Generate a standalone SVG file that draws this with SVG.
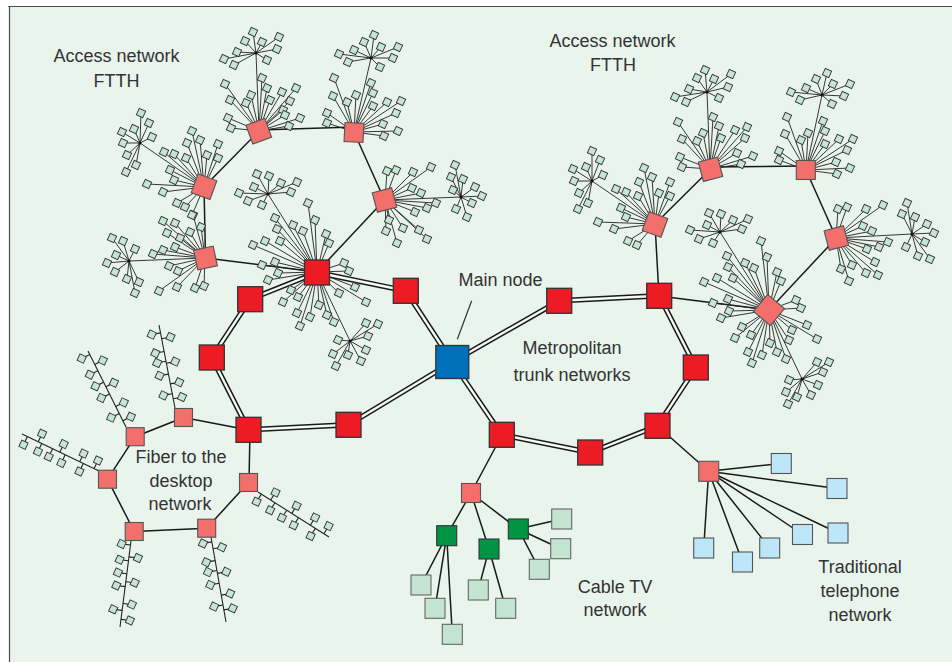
<svg xmlns="http://www.w3.org/2000/svg" xmlns:xlink="http://www.w3.org/1999/xlink" width="952" height="662" viewBox="0 0 952 662">
<style>
.t{font-family:"Liberation Sans",Arial,Helvetica,sans-serif;font-size:18px;fill:#333;text-anchor:middle}
.sp{stroke:#222;stroke-width:0.9;fill:none}
.ln{stroke:#1a1a1a;stroke-width:1.5;fill:none}
.bus{stroke:#222;stroke-width:1.1;fill:none}
.d1{stroke:#1a1a1a;stroke-width:5.4;fill:none;stroke-linejoin:round}
.d2{stroke:#f4faf6;stroke-width:2.4;fill:none;stroke-linejoin:round}
.sq{fill:#c6e6d3;stroke:#333;stroke-width:0.9}
.red{fill:#ed1c24;stroke:#333;stroke-width:1.3}
.pk{fill:#f26f6c;stroke:#555;stroke-width:1.1}
.dg{fill:#009444;stroke:#333;stroke-width:1.1}
.lg{fill:#c3e4d1;stroke:#666;stroke-width:1.1}
.lb{fill:#bde6f8;stroke:#555;stroke-width:1.1}
.bl{fill:#0070ba;stroke:#333;stroke-width:1.3}
.dot{fill:#111}
</style>
<defs>
<rect id="q" class="sq" x="-3.5" y="-3.5" width="7" height="7" transform="rotate(25)"/>
</defs>
<rect x="0" y="0" width="952" height="662" fill="#fff"/>
<rect x="9.5" y="6.5" width="943" height="656" fill="#e8f4ec"/>
<path d="M8 6.5H952M9.5 6V662" stroke="#4d4d4d" stroke-width="1.2" fill="none"/>

<g id="connectors">
<path class="d1" d="M317 272.5L405.8 290.8L452.3 362L559.2 300.8L659.2 295.8L695.8 367.5L657.5 425.8L590.2 452.5L501.8 434.8L452.3 362L348.5 424.8L248.5 429.8L211.8 357.5L250.2 299.2Z"/>
<path class="d2" d="M317 272.5L405.8 290.8L452.3 362L559.2 300.8L659.2 295.8L695.8 367.5L657.5 425.8L590.2 452.5L501.8 434.8L452.3 362L348.5 424.8L248.5 429.8L211.8 357.5L250.2 299.2Z"/>
<path class="ln" d="M659 296L655 224M659 296L769 310M657.5 426L708.7 471.3M502 435L471 493M250 430L249 482M248.5 430L183.5 417.5M317 272L205.5 258M317 272L384.5 200M205.5 258L204 187M204 187L259 131M259 130L354 127M354 132L384.5 200M655 224L710.5 169M710 167L806 166M806 170L836.3 238M836.3 238L769 310"/>
<path class="ln" d="M183.5 417.5L135.2 436.7L107.5 479.2L134.2 531.5L206.7 528.2L248.5 482.5"/>
<path class="ln" d="M471 493L446.7 535.7M471 493L489 549M471 493L518.3 529M446.7 535.7L421 585M446.7 535.7L435 608.3M446.7 535.7L452.3 634.3M489 549L478.3 590M489 549L505.7 608.3M518.3 529L561.7 519M518.3 529L560.7 548.7M518.3 529L539.3 569.3"/>
<path class="ln" d="M708.7 471.3L781.3 463.5M708.7 471.3L837 488.5M708.7 471.3L838 533M708.7 471.3L802.5 534.5M708.7 471.3L769.7 548M708.7 471.3L742.5 562M708.7 471.3L703.7 548"/>
<path stroke="#333" stroke-width="1.2" d="M471.7 300.7L457.3 339.3"/>
<!-- spokes left FTTH -->
<path class="sp" d="M317 272L308 203M317 272L315 220M317 272L326 234M317 272L329 243M317 272L275 218M317 272L277 229M317 272L280 241M317 272L293 225M317 272L303 231M317 272L253 245M317 272L265 241M317 272L262 265M317 272L275 262M317 272L278 273M317 272L268 280M317 272L283 302M317 272L291 290M317 272L298 297M317 272L297 313M317 272L300 326M317 272L310 317M317 272L319 305M317 272L327 315M317 272L334 322M317 272L339 293M317 272L344 263M317 272L349 271M317 272L355 287M317 272L366 302M317 272L268 194M317 272L350 341"/>
<path class="sp" d="M268 194L257 174M268 194L269 176M268 194L281 183M268 194L297 182M268 194L291 192M268 194L239 193M268 194L254 187M268 194L248 201M268 194L262 205"/>
<path class="sp" d="M350 341L338 340M350 341L333 354M350 341L336 366M350 341L348 355M350 341L361 361M350 341L366 350M350 341L368 336M350 341L366 323M350 341L378 324"/>
<path class="sp" d="M205 258L163 221M205 258L175 223M205 258L193 215M205 258L201 227M205 258L190 232M205 258L167 233M205 258L180 238M205 258L153 254M205 258L163 250M205 258L175 247M205 258L169 266M205 258L178 271M205 258L159 291M205 258L177 287M205 258L195 288M205 258L204 286M205 258L129 261"/>
<path class="sp" d="M129 261L112 238M129 261L123 241M129 261L135 249M129 261L116 255M129 261L107 263M129 261L115 272M129 261L127 279M129 261L139 282M129 261L135 293"/>
<path class="sp" d="M204 187L192 131M204 187L200 140M204 187L187 143M204 187L218 144M204 187L207 155M204 187L218 158M204 187L186 158M204 187L174 154M204 187L164 152M204 187L170 170M204 187L174 180M204 187L147 184M204 187L163 192M204 187L177 203M204 187L185 207M204 187L192 215M204 187L140 143"/>
<path class="sp" d="M140 143L141 113M140 143L149 123M140 143L134 129M140 143L152 137M140 143L122 132M140 143L123 143M140 143L127 155M140 143L136 165M140 143L126 172"/>
<path class="sp" d="M259 131L225 84M259 131L230 100M259 131L228 118M259 131L231 128M259 131L246 103M259 131L251 95M259 131L262 78M259 131L267 88M259 131L270 100M259 131L282 92M259 131L283 110M259 131L290 101M259 131L296 88M259 131L285 115M259 131L289 126M259 131L300 118M259 131L256 53"/>
<path class="sp" d="M256 53L253 32M256 53L245 41M256 53L262 42M256 53L279 37M256 53L277 49M256 53L237 52M256 53L267 60M256 53L224 59M256 53L234 65"/>
<path class="sp" d="M354 132L334 78M354 132L333 96M354 132L327 113M354 132L327 123M354 132L347 102M354 132L356 95M354 132L371 83M354 132L373 93M354 132L373 106M354 132L387 102M354 132L401 101M354 132L396 113M354 132L383 124M354 132L384 136M354 132L398 131M354 132L371 58"/>
<path class="sp" d="M371 58L374 35M371 58L364 42M371 58L354 50M371 58L381 47M371 58L398 47M371 58L393 58M371 58L339 54M371 58L348 62M371 58L380 67"/>
<path class="sp" d="M385 200L387 171M385 200L396 170M385 200L413 172M385 200L431 167M385 200L412 188M385 200L421 193M385 200L436 203M385 200L427 208M385 200L415 212M385 200L389 220M385 200L403 228M385 200L419 230M385 200L427 239M385 200L397 243M385 200L386 231M385 200L461 197"/>
<path class="sp" d="M461 197L455 165M461 197L451 177M461 197L463 179M461 197L475 187M461 197L453 190M461 197L472 203M461 197L467 217M461 197L482 196M461 197L456 209"/>
<!-- spokes right FTTH -->
<path class="sp" d="M655 224L616 189M655 224L626 192M655 224L638 196M655 224L639 182M655 224L644 168M655 224L652 177M655 224L659 193M655 224L670 196M655 224L670 182M655 224L621 208M655 224L626 217M655 224L598 222M655 224L614 229M655 224L628 241M655 224L637 245M655 224L592 181"/>
<path class="sp" d="M592 181L592 151M592 181L600 160M592 181L586 167M592 181L573 169M592 181L603 175M592 181L574 181M592 181L579 193M592 181L588 203M592 181L578 209"/>
<path class="sp" d="M710 169L678 122M710 169L682 139M710 169L680 157M710 169L682 167M710 169L697 141M710 169L703 133M710 169L713 117M710 169L719 126M710 169L721 138M710 169L735 130M710 169L747 127M710 169L745 138M710 169L737 153M710 169L741 164M710 169L753 156M710 169L707 92"/>
<path class="sp" d="M707 92L705 70M707 92L697 78M707 92L714 79M707 92L731 74M707 92L728 87M707 92L689 89M707 92L719 98M707 92L675 97M707 92L686 102"/>
<path class="sp" d="M806 170L787 117M806 170L785 134M806 170L779 151M806 170L779 160M806 170L801 140M806 170L808 133M806 170L823 121M806 170L825 131M806 170L825 144M806 170L839 139M806 170L853 139M806 170L847 150M806 170L836 162M806 170L837 174M806 170L850 168M806 170L822 95"/>
<path class="sp" d="M822 95L827 73M822 95L816 79M822 95L833 84M822 95L850 84M822 95L806 88M822 95L844 96M822 95L791 92M822 95L800 100M822 95L832 104"/>
<path class="sp" d="M836 238L838 209M836 238L847 207M836 238L866 209M836 238L883 205M836 238L863 226M836 238L872 231M836 238L888 242M836 238L879 247M836 238L867 249M836 238L875 262M836 238L866 273M836 238L878 275M836 238L852 265M836 238L841 269M836 238L849 281M836 238L912 234"/>
<path class="sp" d="M912 234L907 203M912 234L902 214M912 234L915 217M912 234L927 224M912 234L934 233M912 234L925 242M912 234L906 247M912 234L918 256M912 234L930 259"/>
<path class="sp" d="M769 310L761 241M769 310L767 257M769 310L777 272M769 310L781 281M769 310L727 256M769 310L728 267M769 310L733 278M769 310L745 263M769 310L754 268M769 310L704 282M769 310L717 278M769 310L713 303M769 310L728 299M769 310L729 311M769 310L721 318M769 310L796 300M769 310L801 308M769 310L807 325M769 310L817 339M769 310L792 330M769 310L789 340M769 310L786 359M769 310L777 352M769 310L770 343M769 310L762 355M769 310L751 335M769 310L742 327M769 310L735 338M769 310L748 352M769 310L752 363M769 310L720 232M769 310L802 379"/>
<path class="sp" d="M720 232L709 213M720 232L721 214M720 232L733 220M720 232L748 219M720 232L707 225M720 232L742 229M720 232L690 230M720 232L699 239M720 232L713 243"/>
<path class="sp" d="M802 379L817 362M802 379L829 362M802 379L823 372M802 379L818 385M802 379L811 395M802 379L797 397M802 379L788 404M802 379L786 392M802 379L789 380"/>
<!-- fiber buses -->
<path class="bus" d="M159 325L175 408M88 351L126 427M22 434L99 471M131 541L120 627M211 537L226 622M258 492L329 537"/>
<path class="bus" d="M151.7 334.6L160.5 332.9M155.3 353.2L164.1 351.5M157.2 363L166 361.3M159.6 375.8L168.5 374.1M163.4 395.4L172.2 393.7M170.5 337L161.6 338.7M175.2 361.6L166.4 363.3M179.2 382.2L170.3 383.9M182 397L173.2 398.7
M81.7 358.6L89.8 354.6M89.8 374.7L97.8 370.7M95.5 386.3L103.6 382.3M101.4 397.9L109.5 393.9M111.2 417.6L119.3 413.6M102.8 360.4L94.7 364.4M113.9 382.7L105.9 386.8M123.8 402.4L115.7 406.4M130.9 416.7L122.9 420.7
M42.1 433.7L38.2 441.8M63.7 444.1L59.8 452.2M83.6 453.6L79.7 461.7M98 460.5L94.1 468.6M23.5 444.7L27.4 436.6M37.9 451.6L41.8 443.5M48.7 456.8L52.6 448.7M61.3 462.9L65.2 454.8M79.4 471.5L83.3 463.4
M121.6 543.9L130.5 545M119.6 559.7L128.5 560.8M117.9 572.6L126.8 573.7M116.3 585.5L125.2 586.6M113.2 609.3L122.1 610.4M137.9 558L129 556.9M134.7 582.8L125.8 581.7M131.9 604.6L123 603.5M129.9 620.5L121 619.4
M203 543.5L211.9 541.9M206.3 562.2L215.2 560.6M208 572.1L216.9 570.5M210.3 584.9L219.2 583.3M214.1 606.6L223 605M222 547.2L213.1 548.8M226.3 571.8L217.4 573.4M230.2 593.5L221.3 595.1M232.8 608.3L223.9 609.9
M275.5 492.4L270.7 500M296.6 505.8L291.8 513.4M315.1 517.6L310.3 525.2M328.6 526.1L323.8 533.7M256.6 501.7L261.4 494.1M270.1 510.3L274.9 502.7M281.9 517.8L286.7 510.2M293.7 525.3L298.5 517.7M310.6 536L315.4 528.4"/>
</g>

<g id="sub-hubs">
<circle class="dot" cx="268" cy="194" r="1.6"/><circle class="dot" cx="350" cy="341" r="1.6"/><circle class="dot" cx="129" cy="261" r="1.6"/><circle class="dot" cx="140" cy="143" r="1.6"/><circle class="dot" cx="256" cy="53" r="1.6"/><circle class="dot" cx="371" cy="58" r="1.6"/><circle class="dot" cx="461" cy="197" r="1.6"/><circle class="dot" cx="592" cy="181" r="1.6"/><circle class="dot" cx="707" cy="92" r="1.6"/><circle class="dot" cx="822" cy="95" r="1.6"/><circle class="dot" cx="912" cy="234" r="1.6"/><circle class="dot" cx="720" cy="232" r="1.6"/><circle class="dot" cx="802" cy="379" r="1.6"/>
</g>

<g id="terminals-left-ftth">
<use href="#q" x="308" y="203"/><use href="#q" x="315" y="220"/><use href="#q" x="326" y="234"/><use href="#q" x="329" y="243"/><use href="#q" x="275" y="218"/><use href="#q" x="277" y="229"/><use href="#q" x="280" y="241"/><use href="#q" x="293" y="225"/><use href="#q" x="303" y="231"/><use href="#q" x="253" y="245"/><use href="#q" x="265" y="241"/><use href="#q" x="262" y="265"/><use href="#q" x="275" y="262"/><use href="#q" x="278" y="273"/><use href="#q" x="268" y="280"/><use href="#q" x="283" y="302"/><use href="#q" x="291" y="290"/><use href="#q" x="298" y="297"/><use href="#q" x="297" y="313"/><use href="#q" x="300" y="326"/><use href="#q" x="310" y="317"/><use href="#q" x="319" y="305"/><use href="#q" x="327" y="315"/><use href="#q" x="334" y="322"/><use href="#q" x="339" y="293"/><use href="#q" x="344" y="263"/><use href="#q" x="349" y="271"/><use href="#q" x="355" y="287"/><use href="#q" x="366" y="302"/>
<use href="#q" x="257" y="174"/><use href="#q" x="269" y="176"/><use href="#q" x="281" y="183"/><use href="#q" x="297" y="182"/><use href="#q" x="291" y="192"/><use href="#q" x="239" y="193"/><use href="#q" x="254" y="187"/><use href="#q" x="248" y="201"/><use href="#q" x="262" y="205"/>
<use href="#q" x="338" y="340"/><use href="#q" x="333" y="354"/><use href="#q" x="336" y="366"/><use href="#q" x="348" y="355"/><use href="#q" x="361" y="361"/><use href="#q" x="366" y="350"/><use href="#q" x="368" y="336"/><use href="#q" x="366" y="323"/><use href="#q" x="378" y="324"/>
<use href="#q" x="163" y="221"/><use href="#q" x="175" y="223"/><use href="#q" x="193" y="215"/><use href="#q" x="201" y="227"/><use href="#q" x="190" y="232"/><use href="#q" x="167" y="233"/><use href="#q" x="180" y="238"/><use href="#q" x="153" y="254"/><use href="#q" x="163" y="250"/><use href="#q" x="175" y="247"/><use href="#q" x="169" y="266"/><use href="#q" x="178" y="271"/><use href="#q" x="159" y="291"/><use href="#q" x="177" y="287"/><use href="#q" x="195" y="288"/><use href="#q" x="204" y="286"/>
<use href="#q" x="112" y="238"/><use href="#q" x="123" y="241"/><use href="#q" x="135" y="249"/><use href="#q" x="116" y="255"/><use href="#q" x="107" y="263"/><use href="#q" x="115" y="272"/><use href="#q" x="127" y="279"/><use href="#q" x="139" y="282"/><use href="#q" x="135" y="293"/>
<use href="#q" x="192" y="131"/><use href="#q" x="200" y="140"/><use href="#q" x="187" y="143"/><use href="#q" x="218" y="144"/><use href="#q" x="207" y="155"/><use href="#q" x="218" y="158"/><use href="#q" x="186" y="158"/><use href="#q" x="174" y="154"/><use href="#q" x="164" y="152"/><use href="#q" x="170" y="170"/><use href="#q" x="174" y="180"/><use href="#q" x="147" y="184"/><use href="#q" x="163" y="192"/><use href="#q" x="177" y="203"/><use href="#q" x="185" y="207"/><use href="#q" x="192" y="215"/>
<use href="#q" x="141" y="113"/><use href="#q" x="149" y="123"/><use href="#q" x="134" y="129"/><use href="#q" x="152" y="137"/><use href="#q" x="122" y="132"/><use href="#q" x="123" y="143"/><use href="#q" x="127" y="155"/><use href="#q" x="136" y="165"/><use href="#q" x="126" y="172"/>
<use href="#q" x="225" y="84"/><use href="#q" x="230" y="100"/><use href="#q" x="228" y="118"/><use href="#q" x="231" y="128"/><use href="#q" x="246" y="103"/><use href="#q" x="251" y="95"/><use href="#q" x="262" y="78"/><use href="#q" x="267" y="88"/><use href="#q" x="270" y="100"/><use href="#q" x="282" y="92"/><use href="#q" x="283" y="110"/><use href="#q" x="290" y="101"/><use href="#q" x="296" y="88"/><use href="#q" x="285" y="115"/><use href="#q" x="289" y="126"/><use href="#q" x="300" y="118"/>
<use href="#q" x="253" y="32"/><use href="#q" x="245" y="41"/><use href="#q" x="262" y="42"/><use href="#q" x="279" y="37"/><use href="#q" x="277" y="49"/><use href="#q" x="237" y="52"/><use href="#q" x="267" y="60"/><use href="#q" x="224" y="59"/><use href="#q" x="234" y="65"/>
<use href="#q" x="334" y="78"/><use href="#q" x="333" y="96"/><use href="#q" x="327" y="113"/><use href="#q" x="327" y="123"/><use href="#q" x="347" y="102"/><use href="#q" x="356" y="95"/><use href="#q" x="371" y="83"/><use href="#q" x="373" y="93"/><use href="#q" x="373" y="106"/><use href="#q" x="387" y="102"/><use href="#q" x="401" y="101"/><use href="#q" x="396" y="113"/><use href="#q" x="383" y="124"/><use href="#q" x="384" y="136"/><use href="#q" x="398" y="131"/>
<use href="#q" x="374" y="35"/><use href="#q" x="364" y="42"/><use href="#q" x="354" y="50"/><use href="#q" x="381" y="47"/><use href="#q" x="398" y="47"/><use href="#q" x="393" y="58"/><use href="#q" x="339" y="54"/><use href="#q" x="348" y="62"/><use href="#q" x="380" y="67"/>
<use href="#q" x="387" y="171"/><use href="#q" x="396" y="170"/><use href="#q" x="413" y="172"/><use href="#q" x="431" y="167"/><use href="#q" x="412" y="188"/><use href="#q" x="421" y="193"/><use href="#q" x="436" y="203"/><use href="#q" x="427" y="208"/><use href="#q" x="415" y="212"/><use href="#q" x="389" y="220"/><use href="#q" x="403" y="228"/><use href="#q" x="419" y="230"/><use href="#q" x="427" y="239"/><use href="#q" x="397" y="243"/><use href="#q" x="386" y="231"/>
<use href="#q" x="455" y="165"/><use href="#q" x="451" y="177"/><use href="#q" x="463" y="179"/><use href="#q" x="475" y="187"/><use href="#q" x="453" y="190"/><use href="#q" x="472" y="203"/><use href="#q" x="467" y="217"/><use href="#q" x="482" y="196"/><use href="#q" x="456" y="209"/>
</g>

<g id="terminals-right-ftth">
<use href="#q" x="616" y="189"/><use href="#q" x="626" y="192"/><use href="#q" x="638" y="196"/><use href="#q" x="639" y="182"/><use href="#q" x="644" y="168"/><use href="#q" x="652" y="177"/><use href="#q" x="659" y="193"/><use href="#q" x="670" y="196"/><use href="#q" x="670" y="182"/><use href="#q" x="621" y="208"/><use href="#q" x="626" y="217"/><use href="#q" x="598" y="222"/><use href="#q" x="614" y="229"/><use href="#q" x="628" y="241"/><use href="#q" x="637" y="245"/>
<use href="#q" x="592" y="151"/><use href="#q" x="600" y="160"/><use href="#q" x="586" y="167"/><use href="#q" x="573" y="169"/><use href="#q" x="603" y="175"/><use href="#q" x="574" y="181"/><use href="#q" x="579" y="193"/><use href="#q" x="588" y="203"/><use href="#q" x="578" y="209"/>
<use href="#q" x="678" y="122"/><use href="#q" x="682" y="139"/><use href="#q" x="680" y="157"/><use href="#q" x="682" y="167"/><use href="#q" x="697" y="141"/><use href="#q" x="703" y="133"/><use href="#q" x="713" y="117"/><use href="#q" x="719" y="126"/><use href="#q" x="721" y="138"/><use href="#q" x="735" y="130"/><use href="#q" x="747" y="127"/><use href="#q" x="745" y="138"/><use href="#q" x="737" y="153"/><use href="#q" x="741" y="164"/><use href="#q" x="753" y="156"/>
<use href="#q" x="705" y="70"/><use href="#q" x="697" y="78"/><use href="#q" x="714" y="79"/><use href="#q" x="731" y="74"/><use href="#q" x="728" y="87"/><use href="#q" x="689" y="89"/><use href="#q" x="719" y="98"/><use href="#q" x="675" y="97"/><use href="#q" x="686" y="102"/>
<use href="#q" x="787" y="117"/><use href="#q" x="785" y="134"/><use href="#q" x="779" y="151"/><use href="#q" x="779" y="160"/><use href="#q" x="801" y="140"/><use href="#q" x="808" y="133"/><use href="#q" x="823" y="121"/><use href="#q" x="825" y="131"/><use href="#q" x="825" y="144"/><use href="#q" x="839" y="139"/><use href="#q" x="853" y="139"/><use href="#q" x="847" y="150"/><use href="#q" x="836" y="162"/><use href="#q" x="837" y="174"/><use href="#q" x="850" y="168"/>
<use href="#q" x="827" y="73"/><use href="#q" x="816" y="79"/><use href="#q" x="833" y="84"/><use href="#q" x="850" y="84"/><use href="#q" x="806" y="88"/><use href="#q" x="844" y="96"/><use href="#q" x="791" y="92"/><use href="#q" x="800" y="100"/><use href="#q" x="832" y="104"/>
<use href="#q" x="838" y="209"/><use href="#q" x="847" y="207"/><use href="#q" x="866" y="209"/><use href="#q" x="883" y="205"/><use href="#q" x="863" y="226"/><use href="#q" x="872" y="231"/><use href="#q" x="888" y="242"/><use href="#q" x="879" y="247"/><use href="#q" x="867" y="249"/><use href="#q" x="875" y="262"/><use href="#q" x="866" y="273"/><use href="#q" x="878" y="275"/><use href="#q" x="852" y="265"/><use href="#q" x="841" y="269"/><use href="#q" x="849" y="281"/>
<use href="#q" x="907" y="203"/><use href="#q" x="902" y="214"/><use href="#q" x="915" y="217"/><use href="#q" x="927" y="224"/><use href="#q" x="934" y="233"/><use href="#q" x="925" y="242"/><use href="#q" x="906" y="247"/><use href="#q" x="918" y="256"/><use href="#q" x="930" y="259"/>
<use href="#q" x="761" y="241"/><use href="#q" x="767" y="257"/><use href="#q" x="777" y="272"/><use href="#q" x="781" y="281"/><use href="#q" x="727" y="256"/><use href="#q" x="728" y="267"/><use href="#q" x="733" y="278"/><use href="#q" x="745" y="263"/><use href="#q" x="754" y="268"/><use href="#q" x="704" y="282"/><use href="#q" x="717" y="278"/><use href="#q" x="713" y="303"/><use href="#q" x="728" y="299"/><use href="#q" x="729" y="311"/><use href="#q" x="721" y="318"/><use href="#q" x="796" y="300"/><use href="#q" x="801" y="308"/><use href="#q" x="807" y="325"/><use href="#q" x="817" y="339"/><use href="#q" x="792" y="330"/><use href="#q" x="789" y="340"/><use href="#q" x="786" y="359"/><use href="#q" x="777" y="352"/><use href="#q" x="770" y="343"/><use href="#q" x="762" y="355"/><use href="#q" x="751" y="335"/><use href="#q" x="742" y="327"/><use href="#q" x="735" y="338"/><use href="#q" x="748" y="352"/><use href="#q" x="752" y="363"/>
<use href="#q" x="709" y="213"/><use href="#q" x="721" y="214"/><use href="#q" x="733" y="220"/><use href="#q" x="748" y="219"/><use href="#q" x="707" y="225"/><use href="#q" x="742" y="229"/><use href="#q" x="690" y="230"/><use href="#q" x="699" y="239"/><use href="#q" x="713" y="243"/>
<use href="#q" x="817" y="362"/><use href="#q" x="829" y="362"/><use href="#q" x="823" y="372"/><use href="#q" x="818" y="385"/><use href="#q" x="811" y="395"/><use href="#q" x="797" y="397"/><use href="#q" x="788" y="404"/><use href="#q" x="786" y="392"/><use href="#q" x="789" y="380"/>
</g>

<g id="terminals-fiber-desktop">
<use href="#q" x="151.7" y="334.6"/><use href="#q" x="155.3" y="353.2"/><use href="#q" x="157.2" y="363"/><use href="#q" x="159.6" y="375.8"/><use href="#q" x="163.4" y="395.4"/><use href="#q" x="170.5" y="337"/><use href="#q" x="175.2" y="361.6"/><use href="#q" x="179.2" y="382.2"/><use href="#q" x="182" y="397"/>
<use href="#q" x="81.7" y="358.6"/><use href="#q" x="89.8" y="374.7"/><use href="#q" x="95.5" y="386.3"/><use href="#q" x="101.4" y="397.9"/><use href="#q" x="111.2" y="417.6"/><use href="#q" x="102.8" y="360.4"/><use href="#q" x="113.9" y="382.7"/><use href="#q" x="123.8" y="402.4"/><use href="#q" x="130.9" y="416.7"/>
<use href="#q" x="42.1" y="433.7"/><use href="#q" x="63.7" y="444.1"/><use href="#q" x="83.6" y="453.6"/><use href="#q" x="98" y="460.5"/><use href="#q" x="23.5" y="444.7"/><use href="#q" x="37.9" y="451.6"/><use href="#q" x="48.7" y="456.8"/><use href="#q" x="61.3" y="462.9"/><use href="#q" x="79.4" y="471.5"/>
<use href="#q" x="121.6" y="543.9"/><use href="#q" x="119.6" y="559.7"/><use href="#q" x="117.9" y="572.6"/><use href="#q" x="116.3" y="585.5"/><use href="#q" x="113.2" y="609.3"/><use href="#q" x="137.9" y="558"/><use href="#q" x="134.7" y="582.8"/><use href="#q" x="131.9" y="604.6"/><use href="#q" x="129.9" y="620.5"/>
<use href="#q" x="203" y="543.5"/><use href="#q" x="206.3" y="562.2"/><use href="#q" x="208" y="572.1"/><use href="#q" x="210.3" y="584.9"/><use href="#q" x="214.1" y="606.6"/><use href="#q" x="222" y="547.2"/><use href="#q" x="226.3" y="571.8"/><use href="#q" x="230.2" y="593.5"/><use href="#q" x="232.8" y="608.3"/>
<use href="#q" x="275.5" y="492.4"/><use href="#q" x="296.6" y="505.8"/><use href="#q" x="315.1" y="517.6"/><use href="#q" x="328.6" y="526.1"/><use href="#q" x="256.6" y="501.7"/><use href="#q" x="270.1" y="510.3"/><use href="#q" x="281.9" y="517.8"/><use href="#q" x="293.7" y="525.3"/><use href="#q" x="310.6" y="536"/>
</g>

<g id="trunk-nodes">
<g id="hub-a"><rect class="red" x="304.5" y="260" width="25" height="25"/></g>
<g id="r1"><rect class="red" x="393.3" y="278.3" width="25" height="25"/></g>
<g id="r2"><rect class="red" x="546.7" y="288.3" width="25" height="25"/></g>
<g id="r3"><rect class="red" x="646.7" y="283.3" width="25" height="25"/></g>
<g id="r4"><rect class="red" x="683.3" y="355" width="25" height="25"/></g>
<g id="r5"><rect class="red" x="645" y="413.3" width="25" height="25"/></g>
<g id="r6"><rect class="red" x="577.7" y="440" width="25" height="25"/></g>
<g id="r7"><rect class="red" x="489.3" y="422.3" width="25" height="25"/></g>
<g id="r8"><rect class="red" x="336" y="412.3" width="25" height="25"/></g>
<g id="r9"><rect class="red" x="236" y="417.3" width="25" height="25"/></g>
<g id="r10"><rect class="red" x="199.3" y="345" width="25" height="25"/></g>
<g id="r11"><rect class="red" x="237.7" y="286.7" width="25" height="25"/></g>
<g id="main-node"><rect class="bl" x="435.8" y="345.5" width="33" height="33"/></g>
</g>

<g id="access-nodes">
<g id="lp1"><rect class="pk" x="-10" y="-10" width="20" height="20" transform="translate(205.5 258) rotate(-12)"/></g>
<g id="lp2"><rect class="pk" x="-10" y="-10" width="20" height="20" transform="translate(204 186.7) rotate(20)"/></g>
<g id="lp3"><rect class="pk" x="-10" y="-10" width="20" height="20" transform="translate(258.8 131.2) rotate(-20)"/></g>
<g id="lp4"><rect class="pk" x="-9.5" y="-9.5" width="19" height="19" transform="translate(354 132.5) rotate(3)"/></g>
<g id="lp5"><rect class="pk" x="-10" y="-10" width="20" height="20" transform="translate(384.5 200) rotate(-15)"/></g>
<g id="rp1"><rect class="pk" x="-10" y="-10" width="20" height="20" transform="translate(655 224.5) rotate(20)"/></g>
<g id="rp2"><rect class="pk" x="-10" y="-10" width="20" height="20" transform="translate(710.5 169.3) rotate(-15)"/></g>
<g id="rp3"><rect class="pk" x="-9.5" y="-9.5" width="19" height="19" transform="translate(805.8 170)"/></g>
<g id="rp4"><rect class="pk" x="-10" y="-10" width="20" height="20" transform="translate(836.3 238) rotate(-15)"/></g>
<g id="rp5"><rect class="pk" x="-11" y="-11" width="22" height="22" transform="translate(769 310) rotate(40)"/></g>
</g>

<g id="fiber-nodes">
<g id="pa"><rect class="pk" x="174.5" y="408.5" width="18" height="18"/></g>
<g id="pb"><rect class="pk" x="126.2" y="427.7" width="18" height="18"/></g>
<g id="pc"><rect class="pk" x="98.5" y="470.2" width="18" height="18"/></g>
<g id="pd"><rect class="pk" x="125.2" y="522.5" width="18" height="18"/></g>
<g id="pe"><rect class="pk" x="197.7" y="519.2" width="18" height="18"/></g>
<g id="pf"><rect class="pk" x="239.5" y="473.5" width="18" height="18"/></g>
</g>

<g id="cable-tv-nodes">
<g id="ctv-hub"><rect class="pk" x="461.5" y="483.5" width="19" height="19"/></g>
<g id="g1"><rect class="dg" x="436.7" y="525.7" width="20" height="20"/></g>
<g id="g2"><rect class="dg" x="479" y="539" width="20" height="20"/></g>
<g id="g3"><rect class="dg" x="508.3" y="519" width="20" height="20"/></g>
<g id="c1"><rect class="lg" x="551.7" y="509" width="20" height="20"/></g>
<g id="c2"><rect class="lg" x="550.7" y="538.7" width="20" height="20"/></g>
<g id="c3"><rect class="lg" x="529.3" y="559.3" width="20" height="20"/></g>
<g id="c4"><rect class="lg" x="411" y="575" width="20" height="20"/></g>
<g id="c5"><rect class="lg" x="425" y="598.3" width="20" height="20"/></g>
<g id="c6"><rect class="lg" x="442.3" y="624.3" width="20" height="20"/></g>
<g id="c7"><rect class="lg" x="468.3" y="580" width="20" height="20"/></g>
<g id="c8"><rect class="lg" x="495.7" y="598.3" width="20" height="20"/></g>
</g>

<g id="telephone-nodes">
<g id="tel-hub"><rect class="pk" x="698.7" y="461.3" width="20" height="20"/></g>
<g id="t1"><rect class="lb" x="771.3" y="453.5" width="20" height="20"/></g>
<g id="t2"><rect class="lb" x="827" y="478.5" width="20" height="20"/></g>
<g id="t3"><rect class="lb" x="828" y="523" width="20" height="20"/></g>
<g id="t4"><rect class="lb" x="792.5" y="524.5" width="20" height="20"/></g>
<g id="t5"><rect class="lb" x="759.7" y="538" width="20" height="20"/></g>
<g id="t6"><rect class="lb" x="732.5" y="552" width="20" height="20"/></g>
<g id="t7"><rect class="lb" x="693.7" y="538" width="20" height="20"/></g>
</g>

<g id="labels">
<text class="t" x="116.5" y="62">Access network</text>
<text class="t" x="116.5" y="87">FTTH</text>
<text class="t" x="612.5" y="47">Access network</text>
<text class="t" x="613" y="71">FTTH</text>
<text class="t" x="500.5" y="286">Main node</text>
<text class="t" x="572" y="354">Metropolitan</text>
<text class="t" x="572" y="381">trunk networks</text>
<text class="t" x="181" y="463">Fiber to the</text>
<text class="t" x="181" y="487">desktop</text>
<text class="t" x="180" y="510">network</text>
<text class="t" x="615" y="593">Cable TV</text>
<text class="t" x="615" y="616">network</text>
<text class="t" x="860" y="573">Traditional</text>
<text class="t" x="860" y="597">telephone</text>
<text class="t" x="860" y="621">network</text>
</g>
</svg>
